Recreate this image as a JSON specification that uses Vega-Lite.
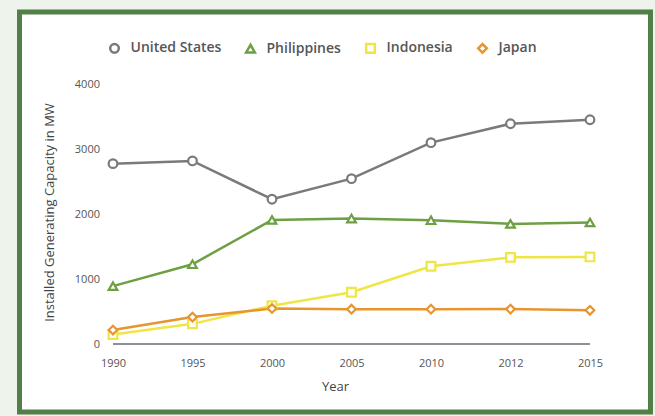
{
  "$schema": "https://vega.github.io/schema/vega-lite/v6.json",
  "autosize": {"type": "none"},
  "width": 631,
  "height": 400,
  "padding": {"left": 19.5, "top": 12, "right": 4.5, "bottom": 4},
  "background": "#eef3ec",
  "config": {
    "view": {"fill": "white", "stroke": "#517f47", "strokeWidth": 5},
    "font": "Open Sans",
    "axis": {"grid": false, "ticks": false, "domain": false, "labelColor": "#555", "titleColor": "#444", "labelFontSize": 11, "titleFontSize": 13, "titleFontWeight": "normal", "format": "d"},
    "legend": {"title": null, "orient": "none", "direction": "horizontal", "legendX": 88, "legendY": 29, "labelFontSize": 14, "labelFontWeight": 600, "labelColor": "#555", "labelOffset": 9, "columnPadding": 19, "symbolStrokeWidth": 2.5, "symbolSize": 75, "symbolFillColor": "white"}
  },
  "data": {
    "values": [
      {"year": "1990", "country": "United States", "mw": 2775},
      {"year": "1995", "country": "United States", "mw": 2817},
      {"year": "2000", "country": "United States", "mw": 2228},
      {"year": "2005", "country": "United States", "mw": 2544},
      {"year": "2010", "country": "United States", "mw": 3098},
      {"year": "2012", "country": "United States", "mw": 3389},
      {"year": "2015", "country": "United States", "mw": 3450},
      {"year": "1990", "country": "Philippines", "mw": 891},
      {"year": "1995", "country": "Philippines", "mw": 1227},
      {"year": "2000", "country": "Philippines", "mw": 1909},
      {"year": "2005", "country": "Philippines", "mw": 1930},
      {"year": "2010", "country": "Philippines", "mw": 1904},
      {"year": "2012", "country": "Philippines", "mw": 1848},
      {"year": "2015", "country": "Philippines", "mw": 1870},
      {"year": "1990", "country": "Indonesia", "mw": 145},
      {"year": "1995", "country": "Indonesia", "mw": 310},
      {"year": "2000", "country": "Indonesia", "mw": 590},
      {"year": "2005", "country": "Indonesia", "mw": 797},
      {"year": "2010", "country": "Indonesia", "mw": 1197},
      {"year": "2012", "country": "Indonesia", "mw": 1333},
      {"year": "2015", "country": "Indonesia", "mw": 1340},
      {"year": "1990", "country": "Japan", "mw": 215},
      {"year": "1995", "country": "Japan", "mw": 414},
      {"year": "2000", "country": "Japan", "mw": 547},
      {"year": "2005", "country": "Japan", "mw": 535},
      {"year": "2010", "country": "Japan", "mw": 536},
      {"year": "2012", "country": "Japan", "mw": 537},
      {"year": "2015", "country": "Japan", "mw": 519}
    ]
  },
  "encoding": {
    "x": {
      "field": "year", "type": "ordinal",
      "scale": {"type": "point", "padding": 0.9686, "align": 0.607},
      "axis": {"title": "Year", "labelAngle": 0, "offset": -55, "labelPadding": 0, "titlePadding": 12}
    },
    "y": {
      "field": "mw", "type": "quantitative",
      "scale": {"domain": [-1046, 5108], "nice": false, "zero": false},
      "axis": {"title": "Installed Generating Capacity in MW", "values": [0, 1000, 2000, 3000, 4000], "offset": -80, "labelPadding": 0, "titlePadding": 18}
    },
    "color": {
      "field": "country", "type": "nominal",
      "scale": {"domain": ["United States", "Philippines", "Indonesia", "Japan"], "range": ["#7a7a7a", "#6e9f43", "#efe545", "#e8952f"]}
    }
  },
  "layer": [
    {
      "mark": {"type": "rule", "color": "#8a9096", "strokeWidth": 1.5},
      "encoding": {
        "x": {"datum": "1990", "type": "ordinal"},
        "x2": {"datum": "2015"},
        "y": {"datum": 0, "type": "quantitative"},
        "color": {"value": "#8a9096"}
      }
    },
    {
      "mark": {"type": "line", "strokeWidth": 2.5}
    },
    {
      "mark": {"type": "point", "filled": false, "fill": "white", "strokeWidth": 2.2, "size": 75, "opacity": 1},
      "encoding": {
        "shape": {
          "field": "country", "type": "nominal",
          "scale": {"domain": ["United States", "Philippines", "Indonesia", "Japan"], "range": ["circle", "triangle-up", "square", "diamond"]}
        }
      }
    }
  ]
}
